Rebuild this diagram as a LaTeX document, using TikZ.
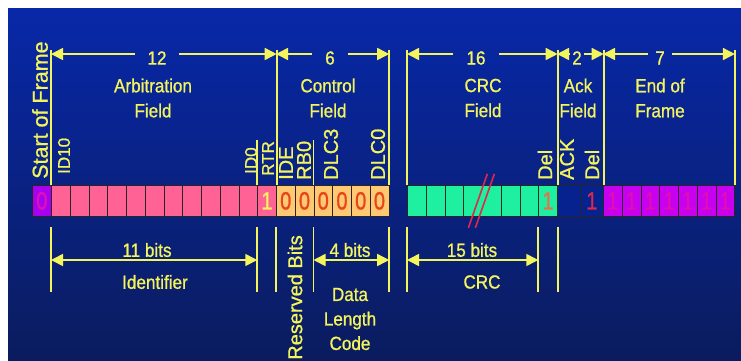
\documentclass[tikz,border=0pt]{standalone}
\usepackage{fontspec}
\setmainfont{Liberation Sans}[FakeStretch=0.9, FakeBold=0.9]
\newfontfamily\bitfont{Liberation Sans}[FakeStretch=0.8, FakeBold=0.9]
\newfontfamily\rotfont{Liberation Sans}[FakeBold=0.9]
\usepackage{tikz}
\usetikzlibrary{arrows.meta, positioning, calc}
\definecolor{canBgTop}{HTML}{0828A8}
\definecolor{canBgBot}{HTML}{0A1C5E}
\definecolor{canYellow}{HTML}{F4F45C}
\definecolor{canPurple}{HTML}{A800EE}
\definecolor{canSofTxt}{HTML}{E010B8}
\definecolor{canPink}{HTML}{FF6396}
\definecolor{canOrange}{HTML}{FFC873}
\definecolor{canZero}{HTML}{E84418}
\definecolor{canGreen}{HTML}{1EF0A0}
\definecolor{canDelTxt}{HTML}{E87050}
\definecolor{canAck}{HTML}{06228E}
\definecolor{canRed}{HTML}{E0284A}
\definecolor{canMagenta}{HTML}{C800F0}
\definecolor{canEofTxt}{HTML}{E010B0}

\begin{document}
\begin{tikzpicture}[x=1pt, y=-1pt,
  >={Triangle[length=12pt,width=12pt]},
  bit/.style={draw=black!85, line width=0.7pt, minimum width=18.75pt,
    minimum height=31pt, inner sep=0pt, anchor=north west,
    font=\bitfont\fontsize{25}{25}\selectfont},
  lbl/.style={text=canYellow, align=center, inner sep=0pt,
    font=\fontsize{19}{25}\selectfont},
  rotlbl/.style={lbl, rotate=90, anchor=west, inner sep=1pt,
    font=\rotfont\fontsize{20}{20}\selectfont},
  tick/.style={canYellow, line width=1.8pt},
  dim/.style={canYellow, line width=1.6pt, ->},
  dimboth/.style={canYellow, line width=1.6pt, <->},
  brk/.style={canRed, line width=1.6pt}
]
  % background
  \useasboundingbox (0,0) rectangle (741,360);
  \fill[white] (0,0) rectangle (741,360);
  \shade[top color=canBgTop, bottom color=canBgBot] (8,8) rectangle (741,360);

  \coordinate (topY) at (0,50);
  \coordinate (arrY) at (0,54);
  \coordinate (midY) at (0,140);
  \coordinate (lowY) at (0,227);
  \coordinate (lowArr) at (0,260);
  \coordinate (lowEnd) at (0,292);

  % the bits
  \node[bit, fill=canPurple, minimum width=19pt, text=canSofTxt] (sof) at (32,185) {0};
  \foreach \i in {1,...,11}
    \node[bit, fill=canPink] (arb\i) at ({51+(\i-1)*18.75},185) {};
  \node[bit, fill=canPink, text=canYellow] (arb12) at (257.25,185) {1};
  \foreach \i in {1,...,6}
    \node[bit, fill=canOrange, text=canZero] (ctl\i) at ({276+(\i-1)*18.75},185) {0};
  \foreach \i/\x in {1/407, 2/425.75, 3/444.5}
    \node[bit, fill=canGreen] (crc\i) at (\x,185) {};
  \node[bit, fill=canGreen, minimum width=37.5pt] (crc4) at (463.25,185) {};
  \foreach \i/\x in {5/500.75, 6/519.5}
    \node[bit, fill=canGreen] (crc\i) at (\x,185) {};
  \node[bit, fill=canGreen, text=canDelTxt] (crc7) at (538.25,185) {1};
  \node[bit, fill=canAck, minimum width=23pt] (ack) at (557,185) {};
  \node[bit, fill=canAck, minimum width=23pt, text=canRed] (ackdel) at (580,185) {1};
  \foreach \i in {1,...,7}
    \node[bit, fill=canMagenta, text=canEofTxt] (eof\i) at ({603+(\i-1)*18.75},185) {1};

  % break in the crc
  \draw[brk] ([shift={(5,-27)}]crc4.center) -- ([shift={(-14,27)}]crc4.center);
  \draw[brk] ([shift={(12,-27)}]crc4.center) -- ([shift={(-7,27)}]crc4.center);

  % ticks
  \foreach \c in {arb1.north west, arb12.north east, ctl6.north east,
                  crc1.north west, crc7.north east, ackdel.north east, eof7.north east}
    \draw[tick] (\c) -- (\c |- topY);
  \foreach \c in {arb12.north west, ctl3.north west}
    \draw[tick] (\c) -- (\c |- midY);
  \foreach \c in {arb1.south west, arb12.south west, ctl1.south west, ctl3.south west,
                  ctl6.south east, crc1.south west, crc7.south west, crc7.south east}
    \draw[tick] (\c |- lowY) -- (\c |- lowEnd);

  % field sizes
  \node[lbl, inner xsep=12pt] (n12) at (157,58) {12};
  \node[lbl, inner xsep=13pt] (n6) at (330,58) {6};
  \node[lbl, inner xsep=13pt] (n16) at (476,58) {16};
  \node[lbl, inner xsep=2pt] (n2) at (577,58) {2};
  \node[lbl, inner xsep=7pt] (n7) at (660,58) {7};
  \foreach \n/\l/\r in {n12/arb1.west/arb12.east, n6/ctl1.west/ctl6.east,
                        n16/crc1.west/crc7.east, n2/ack.west/ackdel.east,
                        n7/eof1.west/eof7.east} {
    \draw[dim] (\n.west |- arrY) -- (\l |- arrY);
    \draw[dim] (\n.east |- arrY) -- (\r |- arrY);
  }

  \node[lbl] (arbname) at (153,98) {Arbitration\\Field};
  \node[lbl] (ctlname) at (328,98) {Control\\Field};
  \node[lbl] (crcname) at (483,98) {CRC\\Field};
  \node[lbl] (ackname) at (578,98) {Ack\\Field};
  \node[lbl] (eofname) at (660,98) {End of\\Frame};

  % bit names
  \node[rotlbl, font=\rotfont\fontsize{21.5}{21.5}\selectfont] (sofname) at (40,180) {Start of Frame};
  \node[rotlbl, font=\rotfont\fontsize{17}{17}\selectfont] (id10) at (64,175) {ID10};
  \node[rotlbl, font=\rotfont\fontsize{17}{17}\selectfont] (id0) at (251,175) {ID0};
  \node[rotlbl, font=\rotfont\fontsize{17}{17}\selectfont] (rtr) at (268,177) {RTR};
  \node[rotlbl] (ide) at (286,181) {IDE};
  \node[rotlbl] (rb0) at (304,181) {RB0};
  \node[rotlbl] (dlc3) at (331,181) {DLC3};
  \node[rotlbl] (dlc0) at (378,181) {DLC0};
  \node[rotlbl] (crcdel) at (545,181) {Del};
  \node[rotlbl] (acklbl) at (567,181) {ACK};
  \node[rotlbl] (ackdellbl) at (592,181) {Del};

  % lower dimensions
  \draw[dimboth] (arb1.west |- lowArr) -- (arb12.west |- lowArr);
  \draw[dimboth] (ctl3.west |- lowArr) -- (ctl6.east |- lowArr);
  \draw[dimboth] (crc1.west |- lowArr) -- (crc7.west |- lowArr);

  \node[lbl] (n11) at (147,250) {11 bits};
  \node[lbl] (idname) at (155,282) {Identifier};
  \node[rotlbl, anchor=east] (resname) at (295,234) {Reserved Bits};
  \node[lbl] (n4) at (350,250) {4 bits};
  \node[lbl, font=\fontsize{19}{24.5}\selectfont] (dlcname) at (350,319) {Data\\Length\\Code};
  \node[lbl] (n15) at (472,250) {15 bits};
  \node[lbl] (crcname2) at (482,282) {CRC};
\end{tikzpicture}
\end{document}
